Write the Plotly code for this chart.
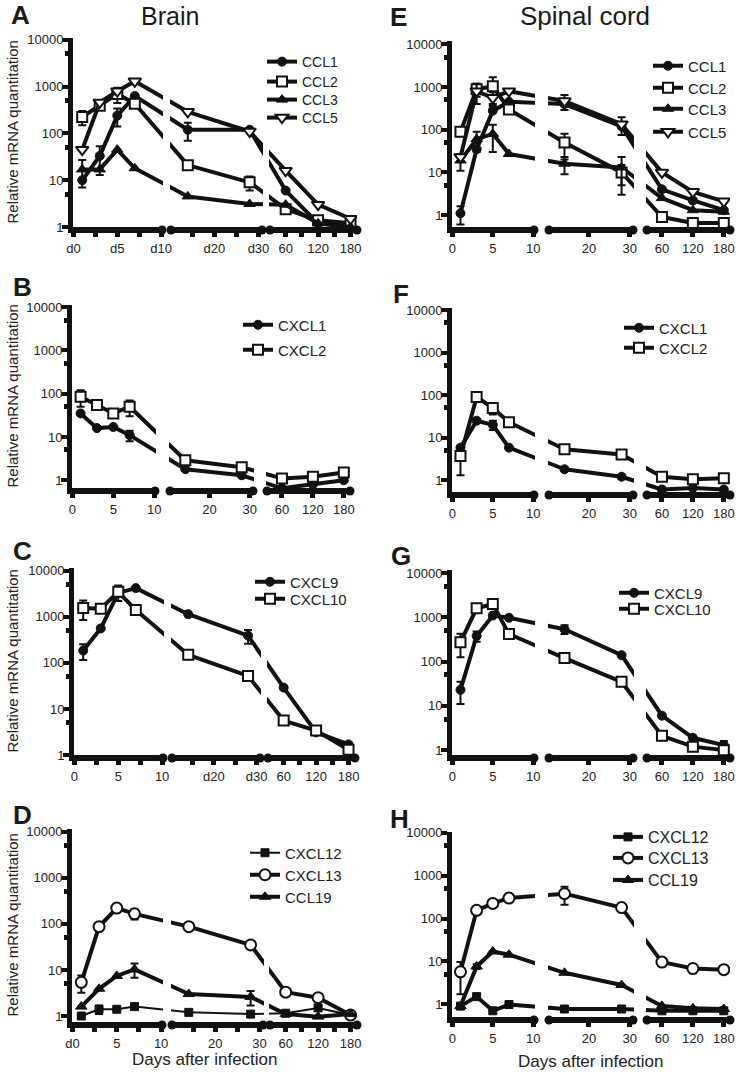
import plotly.graph_objects as go

W, H = 742, 1072


def fx(px):
    return px / W


def fy(py):
    return 1 - py / H


DAYS = [1, 3, 5, 7, 14, 28, 60, 120, 180]

# ---- Panel A : Brain, CC chemokines
A_CCL1 = [10, 33, 240, 630, 120, 120, 6, 1.2, 1.0]
A_CCL1_ERR = [0, 20, 100, 0, 50, 0, 0, 0, 0]
A_CCL2 = [225, 390, 700, 430, 21, 9, 2.4, 1.4, 1.2]
A_CCL2_ERR = [75, 0, 250, 0, 0, 3, 0, 0, 0]
A_CCL3 = [17, 17, 45, 18, 4.5, 3.1, 3, 1.2, 1.0]
A_CCL3_ERR = [10, 0, 0, 0, 0, 0, 0, 0, 0]
A_CCL5 = [45, 460, 800, 1300, 290, 110, 16, 3, 1.5]
A_CCL5_ERR = [0, 0, 0, 0, 0, 0, 0, 0, 0]

# ---- Panel E : Spinal cord, CC chemokines
E_CCL1 = [1.1, 35, 280, 450, 400, 120, 4, 2.2, 1.3]
E_CCL1_ERR = [0.5, 0, 0, 0, 0, 0, 0, 0, 0]
E_CCL2 = [90, 890, 1050, 300, 50, 10, 0.9, 0.65, 0.65]
E_CCL2_ERR = [20, 300, 650, 0, 30, 5, 0, 0, 0]
E_CCL3 = [19, 60, 80, 27, 16, 13, 2.5, 1.3, 1.2]
E_CCL3_ERR = [8, 30, 50, 0, 7, 10, 0, 0, 0]
E_CCL5 = [23, 800, 560, 800, 470, 135, 10, 3.5, 2.1]
E_CCL5_ERR = [0, 400, 200, 0, 180, 60, 0, 0, 0]

# ---- Panel B : Brain, CXCL1/2
B_CXCL1 = [35, 16, 17, 11, 1.8, 1.3, 0.65, 0.8, 1.0]
B_CXCL1_ERR = [0, 0, 0, 3, 0, 0, 0, 0, 0]
B_CXCL2 = [85, 55, 35, 50, 2.9, 2.0, 1.1, 1.2, 1.5]
B_CXCL2_ERR = [35, 0, 0, 20, 0, 0, 0, 0, 0]

# ---- Panel F : Spinal cord, CXCL1/2
F_CXCL1 = [5.8, 25, 20, 5.8, 1.8, 1.2, 0.6, 0.65, 0.6]
F_CXCL1_ERR = [0, 0, 5, 0, 0, 0, 0, 0, 0]
F_CXCL2 = [3.7, 90, 50, 23, 5.3, 4.0, 1.2, 1.05, 1.1]
F_CXCL2_ERR = [2.4, 0, 15, 0, 0, 0, 0, 0, 0]

# ---- Panel C : Brain, CXCL9/10
C_CXCL9 = [185, 560, 3300, 4200, 1140, 390, 29, 3.1, 1.7]
C_CXCL9_ERR = [70, 0, 0, 0, 0, 130, 0, 0, 0]
C_CXCL10 = [1550, 1500, 3500, 1400, 150, 52, 5.6, 3.4, 1.3]
C_CXCL10_ERR = [700, 0, 1300, 0, 0, 0, 0, 0, 0]

# ---- Panel G : Spinal cord, CXCL9/10
G_CXCL9 = [23, 380, 1100, 980, 540, 140, 6, 1.9, 1.3]
G_CXCL9_ERR = [12, 100, 0, 0, 120, 0, 0, 0, 0.3]
G_CXCL10 = [275, 1600, 2000, 420, 120, 35, 2.1, 1.2, 1.0]
G_CXCL10_ERR = [150, 0, 0, 0, 25, 0, 0, 0, 0]

# ---- Panel D : Brain, homeostatic chemokines
D_CXCL12 = [1.0, 1.4, 1.4, 1.6, 1.2, 1.1, 1.15, 1.5, 1.05]
D_CXCL12_ERR = [0, 0.3, 0, 0, 0, 0, 0, 0, 0]
D_CXCL13 = [5.4, 87, 220, 165, 87, 35, 3.3, 2.5, 1.05]
D_CXCL13_ERR = [2.2, 15, 0, 40, 0, 0, 0, 0, 0]
D_CCL19 = [1.6, 3.9, 7.4, 10.3, 3.0, 2.6, 1.1, 0.97, 1.1]
D_CCL19_ERR = [0, 0, 0, 3.5, 0, 0.9, 0, 0, 0]

# ---- Panel H : Spinal cord, homeostatic chemokines
H_CXCL12 = [0.9, 1.5, 0.7, 0.98, 0.77, 0.77, 0.7, 0.7, 0.7]
H_CXCL12_ERR = [0, 0, 0, 0, 0, 0, 0, 0, 0]
H_CXCL13 = [5.7, 155, 225, 300, 380, 180, 9.6, 6.8, 6.4]
H_CXCL13_ERR = [4, 0, 0, 0, 170, 0, 0, 1.5, 0]
H_CCL19 = [0.9, 7.6, 17, 14.3, 5.4, 2.8, 0.91, 0.8, 0.77]
H_CCL19_ERR = [0, 1, 0, 0, 0, 0, 0, 0, 0]

# ---- tick labels
XT_SEG1 = [0, 5, 10]
XT_SEG2 = [20, 30]
XT_SEG3 = [60, 120, 180]
A_XLABELS = ["d0", "d5", "d10", "d20", "d30", "60", "120", "180"]
B_XLABELS = ["0", "5", "10", "20", "30", "60", "120", "180"]
C_XLABELS = ["0", "5", "10", "d20", "d30", "60", "120", "180"]
D_XLABELS = ["d0", "5", "10", "20", "30", "60", "120", "180"]
YT_VALS = [1, 10, 100, 1000, 10000]
YT_TEXT = ["1", "10", "100", "1000", "10000"]
YT_MINOR = [5, 50, 500, 5000]

INK = "#111111"
TXT = "#222222"
FONT = "Arial, Liberation Sans, Helvetica, sans-serif"

STY = {
    "circ": dict(symbol="circle", size=9, color=INK, line=dict(color=INK, width=1)),
    "sq_open": dict(symbol="square", size=10, color="white", line=dict(color=INK, width=2)),
    "tri": dict(symbol="triangle-up", size=10, color=INK, line=dict(color=INK, width=1)),
    "tri_dn_open": dict(symbol="triangle-down", size=11, color="white", line=dict(color=INK, width=2)),
    "sq_fill": dict(symbol="square", size=8, color=INK, line=dict(color=INK, width=1)),
    "circ_open": dict(symbol="circle", size=11, color="white", line=dict(color=INK, width=2)),
}

LEFT_X = [(73, 162), (171, 262), (270, 357)]
RIGHT_X = [(452, 534), (549, 633), (647, 730)]
SEG_RANGES = [(-0.05, 10.1), (10.2, 30.8), (31, 192)]
SEG_SLICES = [(0, 4), (4, 6), (6, 9)]        # which time points live in each axis segment
CONN_SLICES = [(3, 5), (5, 7)]               # the two lines that cross the axis breaks

panels = [
    dict(letter="A", xdom=LEFT_X, ydom=(38, 227), yr=(0, 4.04), labels=A_XLABELS, minor=True,
         legx=302, legy=[62, 82, 100, 118], legf=14, lpos=(20, 15),
         series=[("CCL1", A_CCL1, A_CCL1_ERR, "circ", 4), ("CCL2", A_CCL2, A_CCL2_ERR, "sq_open", 4),
                 ("CCL3", A_CCL3, A_CCL3_ERR, "tri", 4), ("CCL5", A_CCL5, A_CCL5_ERR, "tri_dn_open", 4)]),
    dict(letter="E", xdom=RIGHT_X, ydom=(41, 227), yr=(-0.28, 4.08), labels=B_XLABELS, minor=False,
         legx=688, legy=[66, 88, 109, 132], legf=15, lpos=(398, 17),
         series=[("CCL1", E_CCL1, E_CCL1_ERR, "circ", 4), ("CCL2", E_CCL2, E_CCL2_ERR, "sq_open", 4),
                 ("CCL3", E_CCL3, E_CCL3_ERR, "tri", 4), ("CCL5", E_CCL5, E_CCL5_ERR, "tri_dn_open", 4)]),
    dict(letter="B", xdom=[(72, 155), (170, 253), (267, 350)], ydom=(305, 488), yr=(-0.18, 4.05),
         labels=B_XLABELS, minor=False, legx=278, legy=[325, 350], legf=15, lpos=(22, 287),
         series=[("CXCL1", B_CXCL1, B_CXCL1_ERR, "circ", 4), ("CXCL2", B_CXCL2, B_CXCL2_ERR, "sq_open", 4)]),
    dict(letter="F", xdom=RIGHT_X, ydom=(308, 492), yr=(-0.28, 4.05), labels=B_XLABELS, minor=False,
         legx=659, legy=[328, 348], legf=15, lpos=(401, 294),
         series=[("CXCL1", F_CXCL1, F_CXCL1_ERR, "circ", 4), ("CXCL2", F_CXCL2, F_CXCL2_ERR, "sq_open", 4)]),
    dict(letter="C", xdom=[(74, 163), (172, 260), (268, 355)], ydom=(568, 755), yr=(0, 4.06),
         labels=C_XLABELS, minor=True, legx=290, legy=[582, 599], legf=15, lpos=(22, 551),
         series=[("CXCL9", C_CXCL9, C_CXCL9_ERR, "circ", 4), ("CXCL10", C_CXCL10, C_CXCL10_ERR, "sq_open", 4)]),
    dict(letter="G", xdom=RIGHT_X, ydom=(570, 755), yr=(-0.11, 4.07), labels=B_XLABELS, minor=False,
         legx=654, legy=[593, 609], legf=15, lpos=(401, 556),
         series=[("CXCL9", G_CXCL9, G_CXCL9_ERR, "circ", 4), ("CXCL10", G_CXCL10, G_CXCL10_ERR, "sq_open", 4)]),
    dict(letter="D", xdom=[(72, 162), (172, 263), (270, 357)], ydom=(829, 1022), yr=(-0.13, 4.06),
         labels=D_XLABELS, minor=True, legx=285, legy=[853, 875, 897], legf=15, lpos=(22, 815),
         series=[("CXCL12", D_CXCL12, D_CXCL12_ERR, "sq_fill", 2), ("CXCL13", D_CXCL13, D_CXCL13_ERR, "circ_open", 4),
                 ("CCL19", D_CCL19, D_CCL19_ERR, "tri", 4)]),
    dict(letter="H", xdom=RIGHT_X, ydom=(832, 1017), yr=(-0.3, 4.02), labels=B_XLABELS, minor=False,
         legx=648, legy=[837, 858, 880], legf=16, lpos=(400, 819),
         series=[("CXCL12", H_CXCL12, H_CXCL12_ERR, "sq_fill", 4), ("CXCL13", H_CXCL13, H_CXCL13_ERR, "circ_open", 4),
                 ("CCL19", H_CCL19, H_CCL19_ERR, "tri", 4)]),
]


def seg_px(dom, rng, day):
    """pixel position of a day on one axis segment (used only to set ranges of the break axes)"""
    return dom[0] + (day - rng[0]) / (rng[1] - rng[0]) * (dom[1] - dom[0])


fig = go.Figure()
layout = {}
annotations = []
gap_shapes = []
cap_shapes = []
leg_count = 0
NP = len(panels)


def axname(i):
    return "x" if i == 1 else f"x{i}"


for pi, p in enumerate(panels):
    yidx = pi + 1
    yname = "y" if yidx == 1 else f"y{yidx}"
    seg_ids = [2 * NP + pi * 3 + s + 1 for s in range(3)]
    conn_ids = [2 * pi + 1, 2 * pi + 2]
    seg_ticks = [XT_SEG1, XT_SEG2, XT_SEG3]
    seg_labels = [p["labels"][0:3], p["labels"][3:5], p["labels"][5:8]]
    seg_minor = [[2.5, 7.5], [15, 25], [90, 150]]
    top, bot = p["ydom"]

    # ---- hidden axes that carry the lines crossing each break (Prism-style straight joins)
    for c in range(2):
        a_i, b_i = CONN_SLICES[c]
        da, db = DAYS[a_i], DAYS[b_i - 1]
        pa = seg_px(p["xdom"][c], SEG_RANGES[c], da)
        pb = seg_px(p["xdom"][c + 1], SEG_RANGES[c + 1], db)
        k = (pb - pa) / (db - da)
        d0, d1 = p["xdom"][c][0], p["xdom"][c + 1][1]
        layout[f"xaxis{conn_ids[c]}"] = dict(
            domain=[fx(d0), fx(d1)], range=[da - (pa - d0) / k, da + (d1 - pa) / k],
            anchor=yname, visible=False, automargin=False, fixedrange=True,
        )
        for (name, vals, errs, sty, lw) in p["series"]:
            fig.add_trace(go.Scatter(
                x=DAYS[a_i:b_i], y=vals[a_i:b_i], mode="lines", name=name,
                xaxis=axname(conn_ids[c]), yaxis=yname, line=dict(color=INK, width=lw),
                showlegend=False, hoverinfo="skip",
            ))
        # blank the break itself
        gx0 = p["xdom"][c][1] + 1
        gx1 = p["xdom"][c + 1][0] - 1
        gap_shapes.append(dict(type="rect", xref="paper", yref="paper", x0=fx(gx0), x1=fx(gx1),
                               y0=fy(bot), y1=fy(top - 8), fillcolor="white", line=dict(width=0),
                               layer="above"))

    # one legend box per series so each entry sits where the reference puts it
    leg_names = []
    for k_, ser in enumerate(p["series"]):
        leg_count += 1
        lname = "legend" if leg_count == 1 else f"legend{leg_count}"
        leg_names.append(lname)
        layout[lname] = dict(
            x=fx(p["legx"] - 40), y=fy(p["legy"][k_]), xanchor="left", yanchor="middle",
            bgcolor="rgba(0,0,0,0)", borderwidth=0, font=dict(family=FONT, size=p["legf"], color=TXT),
            itemclick=False, itemdoubleclick=False,
        )

    for s in range(3):
        xid = seg_ids[s]
        i0, i1 = SEG_SLICES[s]
        for k_, (name, vals, errs, sty, lw) in enumerate(p["series"]):
            eb = [e if e > 0 else None for e in errs[i0:i1]]
            fig.add_trace(go.Scatter(
                x=DAYS[i0:i1], y=vals[i0:i1], name=name, mode="lines+markers",
                xaxis=axname(xid), yaxis=yname,
                line=dict(color=INK, width=lw),
                marker=STY[sty],
                error_y=dict(type="data", array=eb, symmetric=True, color=INK, thickness=2, width=4),
                showlegend=(s == 0), legend=leg_names[k_], hoverinfo="skip",
            ))
        x0, x1 = p["xdom"][s]
        xa = dict(
            domain=[fx(x0), fx(x1)], range=list(SEG_RANGES[s]), anchor=yname, automargin=False,
            showline=True, linewidth=6, linecolor=INK, mirror=False, fixedrange=True,
            showgrid=False, zeroline=False,
            tickmode="array", tickvals=seg_ticks[s], ticktext=seg_labels[s],
            ticks="outside", ticklen=4, tickwidth=5, tickcolor=INK,
            tickfont=dict(family=FONT, size=13, color=TXT),
        )
        if p["minor"]:
            xa["minor"] = dict(tickmode="array", tickvals=seg_minor[s], ticks="outside",
                               ticklen=4, tickwidth=5, tickcolor=INK)
        layout[f"xaxis{xid}"] = xa
        # rounded caps at the ends of each axis segment
        yc = fy(bot + 3)
        for xe in (x0, x1):
            if xe == p["xdom"][0][0]:
                continue
            cap_shapes.append(dict(type="circle", xref="paper", yref="paper",
                                   x0=fx(xe - 4.5), x1=fx(xe + 4.5),
                                   y0=yc - 4.5 / H, y1=yc + 4.5 / H,
                                   fillcolor=INK, line=dict(width=0), layer="above"))
    layout[f"yaxis{yidx}"] = dict(
        type="log", domain=[fy(bot), fy(top)], range=list(p["yr"]), anchor=axname(seg_ids[0]),
        automargin=False, fixedrange=True,
        showline=True, linewidth=5, linecolor=INK, showgrid=False, zeroline=False,
        tickmode="array", tickvals=YT_VALS, ticktext=YT_TEXT,
        ticks="outside", ticklen=6, tickwidth=4, tickcolor=INK, ticklabelstandoff=-4,
        tickfont=dict(family=FONT, size=13, color=TXT),
        minor=dict(tickmode="array", tickvals=YT_MINOR, ticks="outside", ticklen=3, tickwidth=5, tickcolor=INK),
    )
    annotations.append(dict(text=f"<b>{p['letter']}</b>", x=fx(p["lpos"][0]), y=fy(p["lpos"][1]),
                            xref="paper", yref="paper", showarrow=False, xanchor="center", yanchor="middle",
                            font=dict(family=FONT, size=26, color="#1a1a1a")))
    if p["xdom"][0][0] < 371:
        annotations.append(dict(text="Relative mRNA quantitation", x=fx(12), y=fy((top + bot) / 2),
                                xref="paper", yref="paper", showarrow=False, textangle=-90,
                                xanchor="center", yanchor="middle",
                                font=dict(family=FONT, size=15, color=TXT)))

annotations.append(dict(text="Brain", x=fx(170), y=fy(16), xref="paper", yref="paper", showarrow=False,
                        xanchor="center", yanchor="middle", font=dict(family=FONT, size=25, color="#1a1a1a")))
annotations.append(dict(text="Spinal cord", x=fx(585), y=fy(16), xref="paper", yref="paper", showarrow=False,
                        xanchor="center", yanchor="middle", font=dict(family=FONT, size=26, color="#1a1a1a")))
annotations.append(dict(text="Days after infection", x=fx(205), y=fy(1059), xref="paper", yref="paper",
                        showarrow=False, xanchor="center", yanchor="middle",
                        font=dict(family=FONT, size=17, color=TXT)))
annotations.append(dict(text="Days after infection", x=fx(591), y=fy(1061), xref="paper", yref="paper",
                        showarrow=False, xanchor="center", yanchor="middle",
                        font=dict(family=FONT, size=17, color=TXT)))

fig.update_layout(
    template="none",
    width=W, height=H, margin=dict(l=0, r=0, t=0, b=0, pad=0), autosize=False,
    paper_bgcolor="white", plot_bgcolor="rgba(0,0,0,0)",
    annotations=annotations, shapes=gap_shapes + cap_shapes, **layout,
)
# remove the page's default 8px body margin so the figure sits at the window's corner
fig.write_html("out.html", config={"displayModeBar": False, "staticPlot": True},
               post_script="document.body.style.margin='0px';")
